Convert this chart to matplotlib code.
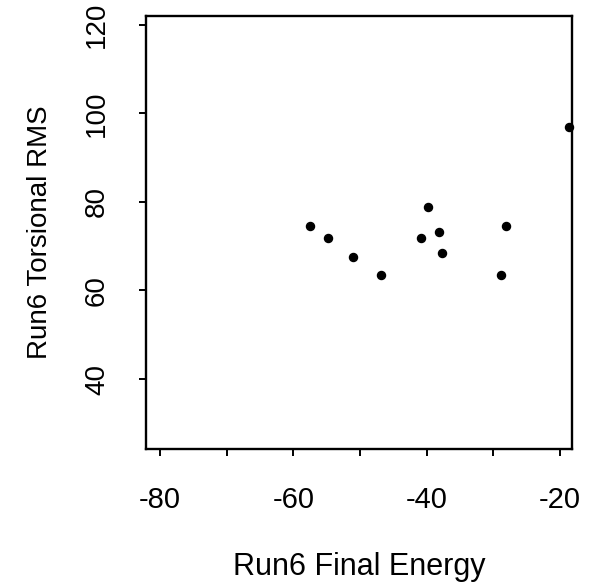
import matplotlib
matplotlib.use("Agg")
import matplotlib.pyplot as plt

plt.rcParams['font.family'] = ['Liberation Sans', 'DejaVu Sans']
plt.rcParams['axes.unicode_minus'] = False

# Run6 final energy vs torsional RMS
energy = [-57.5, -54.8, -51.0, -46.8, -40.8, -39.8, -38.1, -37.7, -28.8, -28.1, -18.7]
rms = [74.6, 71.9, 67.6, 63.6, 71.9, 78.8, 73.2, 68.5, 63.6, 74.6, 96.9]

x_major = [-80, -60, -40, -20]
x_minor = [-70, -50, -30]
y_ticks = [40, 60, 80, 100, 120]

fig = plt.figure(figsize=(5.92, 5.84), dpi=100)
ax = fig.add_axes([0.2466, 0.2312, 0.7196, 0.7414])

ax.plot(energy, rms, 'o', color='black', ms=5.8, clip_on=False)

ax.set_xlim(-82.1, -18.2)
ax.set_ylim(24.2, 122.0)

ax.set_xticks(x_major)
ax.set_xticks(x_minor, minor=True)
ax.set_yticks(y_ticks)
ax.set_xticklabels([str(v) for v in x_major])
ax.set_yticklabels([str(v) for v in y_ticks], rotation=90, va='center')

ax.tick_params(axis='both', which='both', direction='out', length=5, width=1.4)
ax.tick_params(axis='x', labelsize=21, pad=22)
ax.tick_params(axis='y', labelsize=20, pad=21)

for s in ax.spines.values():
    s.set_linewidth(1.7)

ax.set_xlabel("Run6 Final Energy", fontsize=22, labelpad=27)
ax.set_ylabel("Run6 Torsional RMS", fontsize=20, labelpad=22)

fig.savefig("out.png", dpi=100)
